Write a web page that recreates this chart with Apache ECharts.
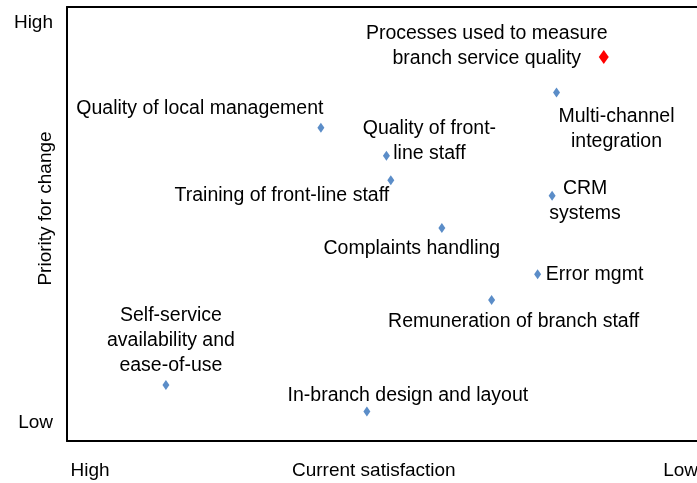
<!DOCTYPE html>
<html>
<head>
<meta charset="utf-8">
<script src="https://cdn.jsdelivr.net/npm/echarts@6/dist/echarts.min.js"></script>
<style>
  html, body { margin: 0; padding: 0; background: #fff; }
  #main { width: 697px; height: 483px; }
</style>
</head>
<body>
<div id="main"></div>
<script>
// items on the matrix: satisfaction (0 = high, 10 = low), priority (0 = low, 10 = high)
var names = [
    'Processes used to measure\nbranch service quality',
    'Multi-channel\nintegration',
    'Quality of local management',
    'Quality of front-\nline staff',
    'Training of front-line staff',
    'CRM\nsystems',
    'Complaints handling',
    'Error mgmt',
    'Remuneration of branch staff',
    'Self-service\navailability and\nease-of-use',
    'In-branch design and layout'
];
var satisfaction = [8.52, 7.77, 4.03, 5.07, 5.14, 7.70, 5.95, 7.47, 6.74, 1.57, 4.76];
var priority     = [8.85, 8.03, 7.22, 6.57, 6.01, 5.65, 4.91, 3.84, 3.25, 1.29, 0.68];
var highlight = 0;

var xTickLabels = ['High', 'Current satisfaction', 'Low'];
var xTickPos = [0.365, 4.87, 9.74];
var yTickLabels = ['Low', 'High'];
var yTickPos = [0.41, 9.64];
var yName = 'Priority for change';

// label offsets from each marker, px
var labelOffset = [[-117, -11], [60, 37], [-121, -19], [43, -15], [-109, 15], [33, 5],
                   [-30, 21], [57, 0], [22, 22], [5, -44], [41, -16]];

var font = 'Arial, "Liberation Sans", sans-serif';
var myChart = echarts.init(document.getElementById('main'));

var points = [];
for (var i = 0; i < names.length; i++) {
    var isHi = i === highlight;
    points.push({
        name: names[i],
        value: [satisfaction[i], priority[i]],
        symbolSize: isHi ? [10, 14] : [7, 10],
        itemStyle: { color: isHi ? '#ff0000' : '#5b8dc8', opacity: 1 },
        label: { offset: labelOffset[i] }
    });
}

option = {
    animation: false,
    grid: { left: 67, right: 0, top: 7, bottom: 42, containLabel: false, outerBoundsMode: 'none' },
    xAxis: [{
        type: 'value',
        min: 0,
        max: 10,
        axisLine: { show: true, onZero: false, lineStyle: { color: '#000', width: 2 } },
        axisTick: { show: false },
        splitLine: { show: false },
        axisLabel: {
            customValues: xTickPos,
            margin: 20,
            color: '#000',
            fontFamily: font,
            fontSize: 19,
            formatter: function (v) { return xTickLabels[xTickPos.indexOf(v)]; }
        }
    }, {
        type: 'value',
        position: 'top',
        min: 0,
        max: 10,
        axisLine: { show: true, onZero: false, lineStyle: { color: '#000', width: 2 } },
        axisTick: { show: false },
        splitLine: { show: false },
        axisLabel: { show: false }
    }],
    yAxis: {
        type: 'value',
        min: 0,
        max: 10,
        name: yName,
        nameLocation: 'middle',
        nameGap: 12,
        nameMoveOverlap: false,
        nameTextStyle: { color: '#000', fontFamily: font, fontSize: 19, padding: [0, 0, 0, 31] },
        axisLine: { show: true, onZero: false, lineStyle: { color: '#000', width: 2 } },
        axisTick: { show: false },
        splitLine: { show: false },
        axisLabel: {
            customValues: yTickPos,
            margin: 14,
            color: '#000',
            fontFamily: font,
            fontSize: 19,
            formatter: function (v) { return yTickLabels[yTickPos.indexOf(v)]; }
        }
    },
    series: [{
        type: 'scatter',
        symbol: 'diamond',
        data: points,
        itemStyle: { opacity: 1 },
        label: {
            show: true,
            position: 'inside',
            formatter: '{b}',
            color: '#000',
            opacity: 1,
            textBorderWidth: 0,
            fontFamily: font,
            fontSize: 19.5,
            lineHeight: 25,
            align: 'center'
        }
    }]
};

myChart.setOption(option);
</script>
</body>
</html>
